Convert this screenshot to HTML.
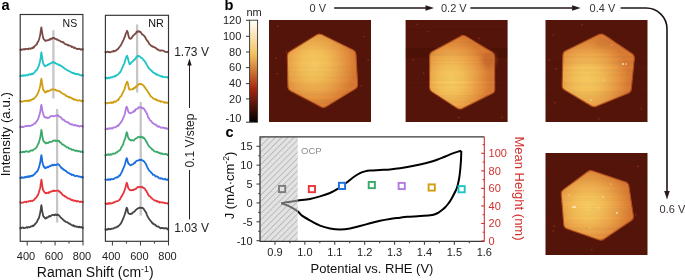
<!DOCTYPE html>
<html><head><meta charset="utf-8"><style>
html,body{margin:0;padding:0;background:#fff;}
body{width:685px;height:280px;overflow:hidden;}
svg{display:block;will-change:transform;}
text{font-family:"Liberation Sans",sans-serif;}
</style></head><body>
<svg width="685" height="280" viewBox="0 0 685 280">
<defs>
<linearGradient id="cbar" x1="0" y1="1" x2="0" y2="0">
<stop offset="0" stop-color="#000"/>
<stop offset="0.3333" stop-color="rgb(168,40,15)"/>
<stop offset="0.6667" stop-color="rgb(243,194,93)"/>
<stop offset="1" stop-color="#fff"/>
</linearGradient>
<radialGradient id="hexg" cx="0.45" cy="0.42" r="0.6">
<stop offset="0" stop-color="#f3c664"/>
<stop offset="0.45" stop-color="#f0ba5c"/>
<stop offset="0.8" stop-color="#e49a48"/>
<stop offset="1" stop-color="#d27a36"/>
</radialGradient>
<filter id="soft" x="-5%" y="-5%" width="110%" height="110%"><feGaussianBlur stdDeviation="0.4"/></filter>
<filter id="blur2" x="-50%" y="-50%" width="200%" height="200%"><feGaussianBlur stdDeviation="2"/></filter>
<pattern id="hatch" patternUnits="userSpaceOnUse" width="4.35" height="4.35" patternTransform="rotate(45)">
<rect width="4.35" height="4.35" fill="#e3e3e3"/>
<line x1="0.5" y1="0" x2="0.5" y2="4.35" stroke="#b9b9b9" stroke-width="0.95"/>
</pattern>
<clipPath id="inH"><rect x="260" y="136" width="37.75" height="106"/></clipPath>
<clipPath id="outH"><rect x="297.75" y="130" width="200" height="120"/></clipPath>
</defs>

<!-- ============ Panel a ============ -->
<text x="1.5" y="9.9" font-size="14.6" font-weight="bold" fill="#000">a</text>
<g fill="none" stroke="#c6c6c6" stroke-width="2.3">
<line x1="53.4" y1="30.2" x2="53.4" y2="98.4"/>
<line x1="57.1" y1="109" x2="57.1" y2="222.5"/>
<line x1="137.1" y1="24.4" x2="137.1" y2="92.5"/>
<line x1="140.7" y1="102" x2="140.7" y2="215.6"/>
</g>
<g fill="none" stroke-width="1.8" stroke-linejoin="round" stroke-linecap="round">
<path d="M20.20,49.72L20.56,49.52L21.03,49.98L21.59,49.35L22.22,49.76L22.89,49.53L23.58,49.16L24.28,49.54L24.97,48.99L25.61,49.31L26.20,48.87L26.89,48.79L27.57,49.01L28.24,49.30L28.89,48.47L29.52,48.45L30.11,48.71L30.68,48.89L31.20,48.38L31.93,47.98L32.54,48.35L33.10,47.18L33.63,47.68L34.20,46.69L34.81,46.01L35.43,45.36L36.05,44.85L36.64,44.58L37.20,43.08L38.06,41.81L38.84,39.98L39.50,37.77L40.20,34.87L40.70,31.46L41.08,28.60L41.40,27.31L41.78,29.85L42.20,32.83L42.67,35.41L43.20,37.99L43.84,39.23L44.50,39.90L45.02,40.88L45.70,40.89L46.20,40.35L46.79,40.50L47.45,40.20L48.20,40.28L48.78,39.93L49.43,39.25L50.12,39.68L50.80,38.56L51.44,38.64L52.00,38.81L52.77,37.94L53.36,38.14L54.20,37.80L54.73,38.59L55.35,38.92L56.02,39.02L56.72,39.65L57.42,39.42L58.09,40.11L58.70,40.29L59.44,40.61L60.10,40.77L60.74,41.45L61.42,41.88L62.20,41.82L62.75,42.33L63.34,42.09L63.97,43.12L64.61,43.47L65.26,44.23L65.91,44.46L66.56,44.30L67.20,44.74L67.83,45.34L68.45,44.98L69.08,45.70L69.70,45.68L70.33,45.88L70.95,46.07L71.58,47.02L72.20,46.62L72.82,46.97L73.43,47.35L74.04,48.05L74.66,47.47L75.27,48.05L75.90,48.34L76.54,48.86L77.20,48.96L77.83,49.14L78.53,48.68L79.26,48.94L80.00,48.99L80.72,49.61L81.40,49.77L82.00,49.04L82.51,49.13L82.90,49.24" stroke="#7a4a46"/>
<path d="M105.40,52.03L105.76,52.25L106.23,52.32L106.79,51.96L107.42,51.66L108.09,52.02L108.78,51.91L109.48,52.04L110.17,52.35L110.81,51.99L111.40,51.72L112.09,51.67L112.77,51.57L113.44,50.77L114.09,51.42L114.72,51.10L115.31,50.97L115.88,50.65L116.40,49.99L117.12,49.59L117.73,48.87L118.27,48.93L118.81,47.78L119.40,47.07L120.06,46.29L120.75,45.16L121.44,44.16L122.11,42.68L122.70,41.50L123.51,39.93L124.21,38.19L124.90,36.66L125.67,33.94L126.43,32.31L127.10,30.81L127.81,32.33L128.40,35.55L128.97,37.53L129.60,38.66L130.11,38.46L130.69,38.78L131.40,38.29L131.92,37.30L132.50,36.74L133.12,35.70L133.76,35.05L134.40,34.64L135.05,33.86L135.73,33.63L136.41,32.20L137.07,31.43L137.70,31.95L138.40,31.38L139.04,31.13L139.68,31.86L140.40,31.83L141.06,32.84L141.79,33.94L142.53,34.56L143.25,35.16L143.90,35.46L144.60,36.45L145.21,37.15L145.80,38.66L146.40,39.33L147.01,40.51L147.62,41.02L148.24,41.84L148.90,43.31L149.46,44.14L150.05,44.65L150.65,45.20L151.27,45.79L151.90,46.24L152.51,46.20L153.11,46.92L153.73,47.15L154.41,47.22L155.20,47.63L155.74,48.15L156.31,48.41L156.90,49.13L157.52,49.68L158.18,49.45L158.87,50.21L159.61,50.53L160.40,50.76L160.98,50.33L161.64,50.36L162.35,50.55L163.10,50.69L163.86,50.87L164.62,51.46L165.37,51.90L166.08,51.99L166.74,51.77L167.32,52.06L167.81,52.31L168.20,51.68" stroke="#7a4a46"/>
<path d="M20.20,75.96L20.56,76.17L21.03,76.00L21.59,75.92L22.22,75.59L22.89,75.23L23.58,75.77L24.28,75.25L24.97,75.64L25.61,75.73L26.20,75.07L26.89,74.97L27.57,75.40L28.24,75.06L28.89,74.38L29.52,74.20L30.11,74.09L30.68,74.69L31.20,74.44L31.93,73.55L32.54,74.01L33.10,73.92L33.63,73.27L34.20,72.53L34.81,72.17L35.43,71.11L36.05,70.26L36.64,70.41L37.20,69.19L38.06,67.33L38.84,65.78L39.50,63.25L40.20,60.49L40.70,57.41L41.08,53.82L41.40,52.36L41.78,54.55L42.20,57.86L42.67,61.01L43.20,63.08L43.84,64.69L44.50,65.24L45.02,66.42L45.70,65.80L46.20,65.66L46.79,65.41L47.45,65.29L48.20,64.39L48.78,64.62L49.43,63.92L50.12,63.66L50.80,63.38L51.44,62.64L52.00,62.87L52.77,62.32L53.36,61.98L54.20,62.90L54.73,62.46L55.35,63.03L56.02,63.61L56.72,63.80L57.42,63.95L58.09,64.50L58.70,64.86L59.44,65.45L60.10,65.10L60.74,65.89L61.42,65.95L62.20,66.45L62.75,67.30L63.34,67.45L63.97,67.94L64.61,68.60L65.26,69.22L65.91,69.20L66.56,69.80L67.20,70.09L67.83,70.45L68.45,70.96L69.08,71.04L69.70,71.42L70.33,71.65L70.95,72.40L71.58,72.43L72.20,72.88L72.82,73.21L73.43,72.79L74.04,73.34L74.66,73.97L75.27,74.10L75.90,73.61L76.54,73.80L77.20,74.31L77.83,74.10L78.53,74.41L79.26,74.37L80.00,75.09L80.72,75.32L81.40,75.53L82.00,74.88L82.51,75.51L82.90,75.52" stroke="#1fc4c6"/>
<path d="M105.40,77.64L105.76,78.35L106.23,78.40L106.79,77.61L107.42,78.30L108.09,77.69L108.78,77.72L109.48,78.15L110.17,77.91L110.81,77.14L111.40,77.30L112.09,77.23L112.77,76.89L113.44,76.56L114.09,76.48L114.72,76.67L115.31,75.73L115.88,76.01L116.40,75.63L117.12,74.78L117.73,74.65L118.27,74.45L118.81,73.73L119.40,72.52L120.06,72.48L120.75,71.14L121.44,70.09L122.11,67.97L122.70,66.95L123.51,64.92L124.21,63.88L124.90,61.50L125.67,58.85L126.43,56.54L127.10,55.73L127.81,57.72L128.40,60.43L128.97,62.30L129.60,64.24L130.11,63.93L130.69,63.64L131.40,62.36L131.92,61.84L132.50,61.87L133.12,60.93L133.76,59.88L134.40,60.06L135.05,59.02L135.73,58.36L136.41,56.83L137.07,56.94L137.70,55.73L138.40,56.37L139.04,56.09L139.68,56.34L140.40,57.05L141.06,57.96L141.79,57.99L142.53,58.63L143.25,59.83L143.90,60.31L144.60,61.11L145.21,62.10L145.80,62.94L146.40,64.05L147.01,65.14L147.62,66.14L148.24,67.57L148.90,68.02L149.46,68.93L150.05,69.27L150.65,70.08L151.27,70.35L151.90,71.14L152.51,71.40L153.11,72.56L153.73,72.80L154.41,72.85L155.20,73.56L155.74,74.31L156.31,73.78L156.90,74.79L157.52,74.70L158.18,75.05L158.87,75.68L159.61,75.52L160.40,75.91L160.98,76.27L161.64,76.74L162.35,76.29L163.10,76.96L163.86,77.02L164.62,77.13L165.37,77.06L166.08,77.16L166.74,77.01L167.32,77.22L167.81,77.27L168.20,78.03" stroke="#1fc4c6"/>
<path d="M20.20,101.36L20.56,101.23L21.03,101.11L21.59,101.81L22.22,101.79L22.89,101.53L23.58,101.07L24.28,100.96L24.97,100.93L25.61,101.02L26.20,100.64L26.89,100.82L27.57,100.53L28.24,101.11L28.89,100.99L29.52,100.43L30.11,99.99L30.68,100.57L31.20,99.76L31.93,99.58L32.54,99.01L33.10,99.14L33.63,98.92L34.20,98.51L34.81,97.66L35.43,97.33L36.05,96.10L36.64,95.56L37.20,94.49L38.06,93.09L38.84,90.78L39.50,88.76L40.20,85.88L40.70,82.79L41.08,80.20L41.40,78.66L41.78,81.01L42.20,84.25L42.67,87.08L43.20,89.62L43.84,90.55L44.50,91.33L45.02,92.45L45.70,91.67L46.20,92.11L46.79,91.77L47.45,90.86L48.20,91.33L48.78,91.15L49.43,90.63L50.12,90.46L50.80,90.27L51.44,89.37L52.00,89.57L52.77,89.28L53.36,89.46L54.20,89.54L54.73,89.74L55.35,89.75L56.02,90.37L56.72,90.50L57.42,90.86L58.09,90.73L58.70,90.83L59.44,91.28L60.10,91.81L60.74,91.87L61.42,92.95L62.20,93.11L62.75,93.52L63.34,93.90L63.97,94.36L64.61,94.60L65.26,94.55L65.91,95.77L66.56,96.13L67.20,96.25L67.83,96.61L68.45,97.05L69.08,96.75L69.70,97.70L70.33,97.49L70.95,97.58L71.58,98.02L72.20,98.74L72.82,98.46L73.43,99.24L74.04,99.72L74.66,99.46L75.27,99.57L75.90,99.87L76.54,100.27L77.20,100.53L77.83,100.52L78.53,100.68L79.26,100.24L80.00,100.43L80.72,100.64L81.40,101.22L82.00,100.86L82.51,101.20L82.90,100.70" stroke="#d19e10"/>
<path d="M105.40,102.76L105.76,102.94L106.23,103.31L106.79,103.29L107.42,103.23L108.09,102.79L108.78,102.96L109.48,102.84L110.17,102.76L110.81,102.32L111.40,102.99L112.09,102.15L112.77,102.77L113.44,102.55L114.09,101.44L114.72,101.68L115.31,101.81L115.88,101.72L116.40,100.95L117.12,100.36L117.73,99.88L118.27,100.14L118.81,98.83L119.40,98.48L120.06,97.12L120.75,96.42L121.44,95.67L122.11,93.66L122.70,93.22L123.51,91.19L124.21,89.88L124.90,87.90L125.67,85.05L126.43,83.23L127.10,81.59L127.81,83.11L128.40,86.20L128.90,88.54L129.60,89.65L130.20,89.67L130.92,89.42L131.71,89.38L132.50,89.02L133.13,89.22L133.78,87.96L134.44,88.23L135.11,87.80L135.80,86.55L136.40,86.84L137.02,86.03L137.66,85.60L138.29,84.42L138.88,84.03L139.43,83.75L140.13,84.22L140.75,83.93L141.34,84.02L142.00,84.53L142.61,84.85L143.26,85.23L143.93,85.97L144.57,87.41L145.15,87.55L145.97,89.30L146.68,89.73L147.40,90.88L148.13,92.29L148.87,93.14L149.65,94.42L150.29,95.77L150.96,96.42L151.65,97.03L152.35,97.47L153.02,98.30L153.69,98.80L154.42,98.87L155.32,99.51L155.84,99.10L156.38,100.04L156.95,100.02L157.56,100.59L158.20,100.74L158.89,100.64L159.62,100.65L160.40,101.77L160.98,101.13L161.63,101.63L162.34,101.67L163.09,101.79L163.85,102.39L164.62,102.78L165.37,102.21L166.08,102.75L166.73,102.52L167.32,102.89L167.81,102.83L168.20,102.68" stroke="#d19e10"/>
<path d="M20.20,126.66L20.56,126.67L21.03,127.33L21.59,126.87L22.22,126.54L22.89,127.17L23.58,127.19L24.28,126.58L24.97,126.19L25.61,126.17L26.20,125.99L26.89,126.14L27.57,125.78L28.24,125.81L28.89,125.71L29.52,125.89L30.11,126.07L30.68,125.80L31.20,125.31L31.93,125.09L32.54,124.99L33.10,124.61L33.63,124.26L34.20,123.56L34.81,123.24L35.43,123.31L36.05,121.77L36.64,121.36L37.20,120.63L38.06,119.20L38.84,116.66L39.50,114.77L40.20,111.69L40.70,108.90L41.08,105.92L41.40,104.85L41.78,106.98L42.20,110.37L42.67,111.98L43.20,114.03L43.84,116.04L44.50,117.10L45.02,117.26L45.70,117.68L46.20,117.17L46.78,117.57L47.44,118.06L48.20,117.82L48.77,117.69L49.40,117.59L50.08,116.62L50.77,116.22L51.49,116.02L52.20,116.20L52.83,116.22L53.51,116.35L54.20,116.02L54.89,115.85L55.55,115.89L56.16,115.53L56.70,115.61L57.45,115.11L58.04,115.93L58.59,115.56L59.20,116.60L59.75,116.76L60.32,116.99L60.90,117.46L61.53,118.23L62.20,119.22L62.80,119.74L63.42,119.60L64.08,120.00L64.76,120.89L65.46,121.38L66.20,121.61L66.78,121.77L67.38,122.47L68.00,122.21L68.64,122.83L69.28,123.31L69.93,124.11L70.57,124.07L71.20,124.57L71.81,124.39L72.41,124.36L73.00,124.56L73.59,125.44L74.20,125.35L74.83,125.10L75.49,124.97L76.20,125.59L76.77,125.87L77.41,125.73L78.09,125.67L78.79,126.18L79.51,126.54L80.21,125.94L80.89,125.83L81.51,126.22L82.07,126.37L82.54,126.69L82.90,126.26" stroke="#b07ae0"/>
<path d="M105.40,129.30L105.77,129.20L106.26,128.91L106.85,128.55L107.50,129.24L108.20,128.50L108.91,128.93L109.62,128.26L110.28,128.16L110.89,128.62L111.40,128.07L112.21,128.59L112.85,128.01L113.41,127.57L113.97,127.42L114.60,127.37L115.22,127.35L115.89,127.31L116.58,126.15L117.24,126.02L117.86,125.47L118.40,125.87L119.15,124.53L119.70,123.94L120.40,122.90L121.02,122.11L121.75,121.18L122.50,119.60L123.21,117.91L123.80,116.83L124.73,114.23L125.40,111.32L126.08,107.98L126.70,106.67L127.32,108.14L127.90,109.99L128.36,111.86L128.90,112.40L129.38,112.93L129.95,113.30L130.70,113.18L131.28,112.75L131.94,112.58L132.66,112.10L133.39,112.10L134.10,110.70L134.80,110.96L135.53,109.56L136.25,109.07L136.92,108.97L137.50,108.53L138.24,107.76L138.81,107.24L139.40,107.59L140.09,107.38L140.81,107.86L141.50,107.21L142.16,107.64L142.80,108.56L143.40,108.14L144.20,109.13L145.00,110.50L145.60,111.59L146.24,112.25L146.90,113.68L147.50,115.11L148.11,117.41L149.00,118.26L149.52,119.46L150.13,120.38L150.79,120.61L151.49,121.32L152.19,122.75L152.87,123.09L153.50,123.32L154.20,124.32L154.88,124.37L155.54,124.70L156.19,124.75L156.81,125.79L157.40,126.25L157.98,126.30L158.43,126.89L158.90,126.23L159.51,126.69L160.40,127.19L160.91,127.79L161.51,127.92L162.20,127.48L162.93,127.48L163.70,127.80L164.49,127.99L165.26,128.55L166.00,127.93L166.69,128.66L167.30,128.69L167.81,128.86L168.20,128.88" stroke="#b07ae0"/>
<path d="M20.20,152.41L20.56,152.09L21.03,152.05L21.59,152.04L22.22,152.41L22.89,151.65L23.58,151.70L24.28,152.19L24.97,151.61L25.61,151.35L26.20,151.25L26.89,151.66L27.57,151.33L28.24,151.87L28.89,151.65L29.52,151.63L30.11,150.78L30.68,150.46L31.20,150.33L31.93,150.51L32.54,150.52L33.10,150.02L33.63,149.51L34.20,149.28L34.81,148.96L35.43,148.40L36.05,147.79L36.64,147.12L37.20,146.09L38.06,143.92L38.84,142.79L39.50,140.33L40.20,137.61L40.70,134.53L41.08,131.93L41.40,129.85L41.78,132.09L42.20,135.39L42.67,137.71L43.20,140.43L43.84,141.43L44.50,142.03L45.02,142.64L45.70,143.45L46.20,142.97L46.78,142.63L47.44,143.08L48.20,142.73L48.77,142.89L49.40,141.78L50.08,141.90L50.77,141.98L51.49,141.77L52.20,141.64L52.83,140.63L53.51,140.75L54.20,140.46L54.89,140.43L55.55,141.14L56.16,140.70L56.70,141.03L57.45,140.49L58.04,141.06L58.59,140.83L59.20,140.99L59.75,141.96L60.32,142.71L60.90,142.52L61.53,143.68L62.20,144.32L62.80,144.39L63.42,145.00L64.08,145.22L64.76,145.73L65.46,146.22L66.20,147.00L66.78,147.38L67.38,147.27L68.00,147.42L68.64,148.07L69.28,148.74L69.93,148.56L70.57,148.97L71.20,149.12L71.81,149.95L72.41,149.91L73.00,149.62L73.59,149.84L74.20,150.30L74.83,150.61L75.49,150.85L76.20,150.45L76.77,150.63L77.41,151.28L78.09,151.10L78.79,151.08L79.51,151.20L80.21,151.95L80.89,151.39L81.51,151.73L82.07,151.59L82.54,151.72L82.90,152.21" stroke="#3aaa6a"/>
<path d="M105.40,155.50L105.77,154.82L106.26,154.60L106.85,155.07L107.50,154.47L108.20,154.20L108.91,155.01L109.62,154.45L110.28,154.76L110.89,154.26L111.40,154.66L112.21,154.10L112.85,153.68L113.41,153.39L113.97,153.75L114.60,153.60L115.22,153.59L115.89,152.45L116.58,152.62L117.24,152.00L117.86,151.76L118.40,151.04L119.15,150.67L119.70,150.41L120.40,149.76L121.02,147.82L121.75,146.78L122.50,145.52L123.21,144.14L123.80,142.03L124.73,139.43L125.40,137.93L126.08,134.77L126.70,132.22L127.32,133.44L127.90,136.89L128.36,137.54L128.90,138.92L129.38,139.28L129.95,140.08L130.70,139.81L131.28,140.56L131.94,140.04L132.66,140.20L133.39,140.53L134.10,140.31L134.80,139.29L135.53,138.80L136.25,138.40L136.92,137.98L137.50,137.45L138.24,136.87L138.81,136.88L139.40,137.30L140.09,137.37L140.81,136.47L141.50,137.05L142.16,137.46L142.80,137.07L143.40,138.24L144.20,138.03L145.00,139.33L145.60,140.23L146.24,141.47L146.90,142.36L147.50,143.64L148.11,145.01L149.00,146.13L149.52,146.96L150.13,147.38L150.79,148.04L151.49,148.28L152.19,149.50L152.87,149.94L153.50,150.17L154.20,151.16L154.88,151.55L155.54,151.54L156.19,151.53L156.81,152.07L157.40,151.95L157.98,152.25L158.43,152.79L158.90,152.67L159.51,153.23L160.40,153.52L160.91,153.15L161.51,153.85L162.20,153.41L162.93,154.17L163.70,154.33L164.49,154.17L165.26,153.82L166.00,154.37L166.69,154.34L167.30,154.99L167.81,154.25L168.20,155.03" stroke="#3aaa6a"/>
<path d="M20.20,178.10L20.56,177.80L21.03,177.84L21.59,177.17L22.22,177.90L22.89,177.35L23.58,177.75L24.28,177.64L24.97,176.82L25.61,177.37L26.20,177.43L26.89,176.46L27.57,176.64L28.24,176.93L28.89,176.21L29.52,176.82L30.11,176.06L30.68,176.46L31.20,175.64L31.93,175.78L32.54,175.99L33.10,175.04L33.63,174.78L34.20,174.61L34.81,173.89L35.43,172.98L36.05,172.43L36.64,171.62L37.20,171.54L38.06,169.61L38.84,167.94L39.50,165.27L40.20,162.83L40.70,159.22L41.08,156.61L41.40,155.14L41.78,157.09L42.20,160.97L42.67,163.12L43.20,165.18L43.84,166.83L44.50,166.90L45.02,168.24L45.70,167.93L46.20,167.56L46.78,167.72L47.44,166.89L48.20,167.29L48.77,166.65L49.40,166.17L50.08,166.30L50.77,165.70L51.49,165.19L52.20,165.54L52.83,164.69L53.51,165.32L54.20,164.62L54.89,164.90L55.55,165.16L56.16,164.71L56.70,164.76L57.45,164.43L58.04,164.20L58.59,164.44L59.20,164.95L59.75,165.91L60.32,166.38L60.90,167.19L61.53,168.31L62.20,168.23L62.80,168.85L63.42,169.78L64.08,169.65L64.76,170.13L65.46,170.97L66.20,171.21L66.78,171.82L67.38,172.07L68.00,172.80L68.64,173.18L69.28,173.15L69.93,173.91L70.57,174.08L71.20,174.03L71.81,175.10L72.41,174.64L73.00,174.76L73.59,174.90L74.20,175.63L74.83,176.03L75.49,176.11L76.20,175.90L76.77,175.89L77.41,175.76L78.09,176.51L78.79,176.55L79.51,176.45L80.21,176.85L80.89,176.75L81.51,177.33L82.07,177.21L82.54,176.79L82.90,177.50" stroke="#1a6ee0"/>
<path d="M105.40,179.54L105.77,179.99L106.26,179.81L106.85,179.58L107.50,179.33L108.20,179.98L108.91,179.13L109.62,179.59L110.28,179.90L110.89,179.02L111.40,179.00L112.21,179.27L112.85,179.05L113.41,179.05L113.97,179.05L114.60,178.17L115.22,178.05L115.89,177.72L116.58,177.12L117.24,177.60L117.86,177.13L118.40,176.72L119.15,175.52L119.70,175.87L120.40,174.75L121.02,173.38L121.75,172.27L122.50,170.45L123.21,168.73L123.80,167.31L124.73,164.98L125.40,162.54L126.08,159.74L126.70,158.15L127.32,159.70L127.90,162.35L128.36,163.40L128.90,163.77L129.38,164.59L129.95,164.91L130.70,165.37L131.28,164.93L131.94,164.34L132.66,164.28L133.39,164.11L134.10,162.88L134.80,163.02L135.53,161.56L136.25,161.19L136.92,160.62L137.50,160.71L138.24,160.55L138.81,160.23L139.40,159.74L140.09,160.19L140.81,159.58L141.50,159.56L142.16,160.47L142.80,160.56L143.40,161.03L144.20,161.58L145.00,162.81L145.60,163.36L146.24,165.04L146.90,166.25L147.50,167.72L148.11,168.65L149.00,170.37L149.52,170.88L150.13,171.33L150.79,171.98L151.49,173.12L152.19,173.28L152.87,174.75L153.50,174.53L154.20,174.93L154.88,175.43L155.54,176.60L156.19,176.31L156.81,176.39L157.40,176.55L157.98,176.88L158.43,177.80L158.90,177.98L159.51,178.28L160.40,178.56L160.91,178.00L161.51,178.65L162.20,178.55L162.93,179.13L163.70,179.25L164.49,179.45L165.26,178.74L166.00,179.66L166.69,179.81L167.30,179.93L167.81,179.17L168.20,179.33" stroke="#1a6ee0"/>
<path d="M20.20,202.21L20.56,202.10L21.03,202.87L21.59,202.79L22.22,202.56L22.89,202.69L23.58,202.43L24.28,202.02L24.97,201.76L25.61,201.68L26.20,202.26L26.89,201.60L27.57,201.61L28.24,201.60L28.89,201.07L29.52,201.18L30.11,201.07L30.68,201.36L31.20,200.87L31.93,200.60L32.54,201.03L33.10,200.33L33.63,200.37L34.20,199.72L34.81,198.60L35.43,198.36L36.05,197.68L36.64,197.23L37.20,195.95L38.06,194.64L38.84,192.58L39.50,190.32L40.20,187.91L40.70,184.19L41.08,181.89L41.40,179.67L41.78,181.73L42.20,185.30L42.67,188.32L43.20,190.58L43.84,190.94L44.50,192.29L45.02,192.83L45.70,193.36L46.20,192.75L46.78,192.99L47.44,192.71L48.20,193.00L48.77,192.24L49.40,192.69L50.08,191.77L50.77,191.44L51.49,191.68L52.20,191.28L52.83,190.75L53.51,191.15L54.20,190.47L54.89,191.08L55.55,190.91L56.16,190.94L56.70,190.77L57.45,190.51L58.04,190.63L58.59,190.82L59.20,191.67L59.75,191.33L60.32,192.73L60.90,192.54L61.53,193.40L62.20,194.08L62.80,195.20L63.42,195.27L64.08,195.61L64.76,196.57L65.46,196.37L66.20,197.04L66.78,197.45L67.38,198.02L68.00,198.36L68.64,198.59L69.28,198.63L69.93,198.92L70.57,199.04L71.20,200.00L71.81,200.06L72.41,200.35L73.00,199.98L73.59,200.43L74.20,200.93L74.83,200.90L75.49,200.60L76.20,201.09L76.77,201.63L77.41,201.09L78.09,201.16L78.79,201.37L79.51,201.88L80.21,202.12L80.89,201.52L81.51,201.61L82.07,201.77L82.54,201.91L82.90,202.16" stroke="#e8353c"/>
<path d="M105.40,203.46L105.77,203.59L106.26,203.40L106.85,204.13L107.50,203.82L108.20,203.12L108.91,203.90L109.62,202.96L110.28,203.17L110.89,203.69L111.40,203.43L112.21,203.24L112.85,202.83L113.41,202.46L113.97,202.74L114.60,201.98L115.22,201.83L115.89,201.71L116.58,201.03L117.24,201.05L117.86,201.10L118.40,200.67L119.15,200.01L119.70,199.68L120.40,198.54L121.02,197.18L121.75,196.33L122.50,194.68L123.21,193.59L123.80,192.52L124.73,189.71L125.40,187.72L126.08,184.95L126.70,182.73L127.32,184.06L127.90,186.92L128.36,188.18L128.90,188.87L129.38,189.38L129.95,190.07L130.70,190.23L131.28,190.26L131.94,190.08L132.66,189.87L133.39,190.03L134.10,189.28L134.80,189.24L135.53,189.11L136.25,188.50L136.92,187.92L137.50,187.17L138.24,187.04L138.81,186.97L139.40,187.07L140.09,186.77L140.81,186.99L141.50,187.30L142.16,186.76L142.80,187.54L143.40,188.01L144.20,188.10L145.00,188.97L145.60,190.34L146.24,190.51L146.90,192.14L147.50,192.86L148.11,194.62L149.00,195.97L149.52,196.11L150.13,196.29L150.79,197.39L151.49,197.97L152.19,198.73L152.87,199.06L153.50,199.65L154.20,200.27L154.88,200.32L155.54,200.50L156.19,201.29L156.81,200.78L157.40,201.49L157.98,201.46L158.43,202.05L158.90,201.62L159.51,202.67L160.40,202.25L160.91,202.05L161.51,202.36L162.20,202.59L162.93,202.31L163.70,202.82L164.49,202.93L165.26,203.31L166.00,203.06L166.69,203.06L167.30,203.09L167.81,203.68L168.20,203.93" stroke="#e8353c"/>
<path d="M20.20,228.13L20.56,227.78L21.03,228.33L21.59,227.87L22.22,227.63L22.89,227.49L23.58,228.07L24.28,228.03L24.97,227.79L25.61,227.54L26.20,227.56L26.89,227.12L27.57,227.74L28.24,227.02L28.89,227.18L29.52,227.23L30.11,227.09L30.68,226.60L31.20,226.28L31.93,226.31L32.54,225.67L33.10,226.14L33.63,225.35L34.20,225.42L34.81,224.30L35.43,223.78L36.05,222.95L36.64,222.33L37.20,221.22L38.06,219.35L38.84,218.17L39.50,215.76L40.20,212.64L40.70,209.72L41.08,206.84L41.40,205.20L41.78,207.66L42.20,211.09L42.67,213.28L43.20,215.90L43.84,217.20L44.50,217.25L45.02,218.46L45.70,218.54L46.20,218.25L46.78,217.32L47.44,217.66L48.20,217.11L48.77,216.25L49.40,215.97L50.08,216.63L50.77,216.06L51.49,215.40L52.20,215.03L52.83,214.91L53.51,214.86L54.20,215.26L54.89,214.72L55.55,214.44L56.16,215.13L56.70,215.00L57.45,214.39L58.04,215.20L58.59,215.14L59.20,215.71L59.75,216.11L60.32,217.01L60.90,217.65L61.53,218.47L62.20,218.53L62.80,219.56L63.42,219.92L64.08,220.65L64.76,220.86L65.46,221.80L66.20,221.98L66.78,222.06L67.38,222.42L68.00,222.71L68.64,223.45L69.28,223.38L69.93,224.14L70.57,224.15L71.20,224.80L71.81,225.07L72.41,225.35L73.00,225.90L73.59,225.24L74.20,226.27L74.83,226.07L75.49,226.34L76.20,226.62L76.77,226.92L77.41,226.58L78.09,226.75L78.79,227.41L79.51,226.64L80.21,227.31L80.89,227.41L81.51,226.90L82.07,227.56L82.54,227.71L82.90,228.02" stroke="#454545"/>
<path d="M105.40,229.33L105.77,229.94L106.26,229.42L106.85,229.33L107.50,229.67L108.20,228.73L108.91,229.34L109.62,229.16L110.28,228.80L110.89,229.24L111.40,228.67L112.21,228.64L112.85,228.57L113.41,228.68L113.97,227.95L114.60,227.94L115.22,227.66L115.89,227.48L116.58,227.40L117.24,226.50L117.86,226.67L118.40,225.90L119.15,225.51L119.70,224.79L120.40,224.01L121.02,223.39L121.75,221.68L122.50,220.29L123.21,218.33L123.80,217.02L124.73,214.54L125.40,212.59L126.08,209.53L126.70,207.68L127.32,208.55L127.90,211.72L128.36,213.09L128.90,213.55L129.38,213.54L129.95,214.15L130.70,213.81L131.28,213.65L131.94,213.83L132.66,212.85L133.39,212.20L134.10,211.69L134.80,211.19L135.53,210.24L136.25,209.61L136.92,209.06L137.50,208.70L138.24,208.21L138.81,208.16L139.40,207.61L140.09,207.95L140.81,207.68L141.50,208.06L142.16,207.66L142.80,208.13L143.40,208.44L144.20,209.79L145.00,210.91L145.60,211.80L146.24,212.92L146.90,214.82L147.50,216.20L148.11,217.43L149.00,218.66L149.52,219.42L150.13,220.31L150.79,221.00L151.49,221.90L152.19,222.87L152.87,223.85L153.50,223.55L154.20,224.62L154.88,224.55L155.54,225.00L156.19,226.01L156.81,226.08L157.40,226.72L157.98,226.58L158.43,226.44L158.90,227.07L159.51,227.53L160.40,228.14L160.91,228.30L161.51,227.92L162.20,228.00L162.93,227.82L163.70,228.50L164.49,228.20L165.26,228.27L166.00,228.25L166.69,228.35L167.30,229.13L167.81,228.65L168.20,229.57" stroke="#454545"/>
</g>
<g fill="none" stroke="#333" stroke-width="1.15">
<rect x="20.2" y="14.5" width="62.7" height="226.8"/>
<rect x="105.4" y="15.3" width="63.1" height="226"/>
</g>
<g stroke="#3a3a3a" stroke-width="1">
<line x1="27.18" y1="241.3" x2="27.18" y2="245.5"/><line x1="41.13" y1="241.3" x2="41.13" y2="243.6"/><line x1="55.09" y1="241.3" x2="55.09" y2="245.5"/><line x1="69.05" y1="241.3" x2="69.05" y2="243.6"/><line x1="83.00" y1="241.3" x2="83.00" y2="245.5"/>
<line x1="112.41" y1="241.3" x2="112.41" y2="245.5"/><line x1="126.43" y1="241.3" x2="126.43" y2="243.6"/><line x1="140.46" y1="241.3" x2="140.46" y2="245.5"/><line x1="154.48" y1="241.3" x2="154.48" y2="243.6"/><line x1="168.50" y1="241.3" x2="168.50" y2="245.5"/>
</g>
<g font-size="11" fill="#222" text-anchor="middle">
<text x="26.0" y="259.5">400</text><text x="54.0" y="259.5">600</text><text x="82.0" y="259.5">800</text>
<text x="111.3" y="259.5">400</text><text x="139.4" y="259.5">600</text><text x="167.5" y="259.5">800</text>
</g>
<text x="95.2" y="276.8" font-size="14" fill="#111" text-anchor="middle">Raman Shift (cm<tspan font-size="8.8" dy="-5.2">-1</tspan><tspan dy="5.2">)</tspan></text>
<text transform="translate(9.9,134.2) rotate(-90)" font-size="13.3" fill="#111" text-anchor="middle">Intensity (a.u.)</text>
<text x="62.6" y="27.3" font-size="10.5" fill="#111">NS</text>
<text x="148.3" y="27.1" font-size="10.8" fill="#111">NR</text>
<text x="174.2" y="55.6" font-size="12" fill="#222">1.73 V</text>
<text x="174.2" y="231.9" font-size="12" fill="#222">1.03 V</text>
<g stroke="#2a1c1c" stroke-width="1">
<line x1="189.5" y1="63" x2="189.5" y2="108"/>
<line x1="189.5" y1="170" x2="189.5" y2="219.4"/>
</g>
<polygon points="189.5,58.6 187.3,65.4 191.7,65.4" fill="#1e1414"/>
<text transform="translate(193.6,140.6) rotate(-90)" font-size="12" fill="#222" text-anchor="middle">0.1 V/step</text>

<!-- ============ Panel b ============ -->
<text x="224.6" y="9.9" font-size="14.6" font-weight="bold" fill="#000">b</text>
<text x="246.5" y="16.4" font-size="11" fill="#222">nm</text>
<rect x="249.6" y="20.2" width="8" height="102" fill="url(#cbar)" stroke="#333" stroke-width="0.9"/>
<g stroke="#333" stroke-width="1">
<line x1="246" y1="20.3" x2="249.6" y2="20.3"/><line x1="246" y1="36.3" x2="249.6" y2="36.3"/><line x1="246" y1="52.0" x2="249.6" y2="52.0"/><line x1="246" y1="67.6" x2="249.6" y2="67.6"/><line x1="246" y1="83.6" x2="249.6" y2="83.6"/><line x1="246" y1="98.9" x2="249.6" y2="98.9"/><line x1="246" y1="122.2" x2="249.6" y2="122.2"/>
</g>
<g font-size="11" fill="#222" text-anchor="end">
<text x="241.3" y="23.9">120</text><text x="241.3" y="40.0">100</text><text x="241.3" y="55.8">80</text>
<text x="241.3" y="71.4">60</text><text x="241.3" y="87.4">40</text><text x="241.3" y="102.7">20</text><text x="241.5" y="122.2">-10</text>
</g>
<g>
<rect x="269" y="20" width="102" height="102" fill="#56150a"/>

<circle cx="302.1" cy="67.1" r="0.8" fill="#a03a18" opacity="0.8"/><circle cx="277.7" cy="26.5" r="0.8" fill="#a03a18" opacity="0.8"/><circle cx="361.3" cy="86.0" r="0.8" fill="#a03a18" opacity="0.8"/><circle cx="301.0" cy="66.1" r="0.8" fill="#a03a18" opacity="0.8"/><circle cx="368.2" cy="60.2" r="0.8" fill="#a03a18" opacity="0.8"/><circle cx="277.0" cy="73.7" r="0.8" fill="#a03a18" opacity="0.8"/><circle cx="364.3" cy="36.5" r="0.8" fill="#a03a18" opacity="0.8"/><circle cx="276.2" cy="58.1" r="0.8" fill="#a03a18" opacity="0.8"/><circle cx="286.3" cy="52.2" r="0.8" fill="#a03a18" opacity="0.8"/><circle cx="330.1" cy="50.5" r="0.8" fill="#a03a18" opacity="0.8"/>
<radialGradient id="hg1" cx="0.38" cy="0.42" r="0.62">
<stop offset="0" stop-color="#f8cc62"/>
<stop offset="0.3" stop-color="#f5c058"/>
<stop offset="0.55" stop-color="#eea94c"/>
<stop offset="0.75" stop-color="#e6933f"/>
<stop offset="0.95" stop-color="#da7c34"/>
</radialGradient>
<path d="M316.65,34.87Q319.20,33.30 321.89,34.62L353.11,49.88Q355.80,51.20 355.97,54.20L357.63,84.30Q357.80,87.30 355.24,88.86L326.16,106.64Q323.60,108.20 320.94,106.80L290.66,90.90Q288.00,89.50 287.93,86.50L287.27,56.00Q287.20,53.00 289.75,51.43Z" fill="url(#hg1)" stroke="#b5501f" stroke-width="1.1" stroke-linejoin="round" filter="url(#soft)"/>

<rect x="269" y="20" width="102" height="2" fill="#000" opacity="0.010"/><rect x="269" y="22" width="102" height="1" fill="#000" opacity="0.023"/><rect x="269" y="23" width="102" height="1" fill="#000" opacity="0.030"/><rect x="269" y="24" width="102" height="1" fill="#000" opacity="0.005"/><rect x="269" y="25" width="102" height="1" fill="#000" opacity="0.026"/><rect x="269" y="26" width="102" height="1" fill="#000" opacity="0.015"/><rect x="269" y="27" width="102" height="1" fill="#000" opacity="0.035"/><rect x="269" y="28" width="102" height="1" fill="#000" opacity="0.003"/><rect x="269" y="29" width="102" height="2" fill="#000" opacity="0.029"/><rect x="269" y="31" width="102" height="3" fill="#000" opacity="0.033"/><rect x="269" y="34" width="102" height="2" fill="#000" opacity="0.012"/><rect x="269" y="36" width="102" height="1" fill="#000" opacity="0.017"/><rect x="269" y="37" width="102" height="3" fill="#000" opacity="0.023"/><rect x="269" y="40" width="102" height="3" fill="#000" opacity="0.022"/><rect x="269" y="43" width="102" height="1" fill="#000" opacity="0.012"/><rect x="269" y="44" width="102" height="2" fill="#000" opacity="0.024"/><rect x="269" y="46" width="102" height="1" fill="#000" opacity="0.015"/><rect x="269" y="47" width="102" height="3" fill="#000" opacity="0.019"/><rect x="269" y="50" width="102" height="2" fill="#000" opacity="0.007"/><rect x="269" y="52" width="102" height="2" fill="#000" opacity="0.009"/><rect x="269" y="54" width="102" height="3" fill="#000" opacity="0.009"/><rect x="269" y="57" width="102" height="2" fill="#000" opacity="0.014"/><rect x="269" y="59" width="102" height="1" fill="#000" opacity="0.020"/><rect x="269" y="60" width="102" height="1" fill="#000" opacity="0.020"/><rect x="269" y="61" width="102" height="1" fill="#000" opacity="0.025"/><rect x="269" y="62" width="102" height="1" fill="#000" opacity="0.003"/><rect x="269" y="63" width="102" height="3" fill="#000" opacity="0.014"/><rect x="269" y="66" width="102" height="3" fill="#000" opacity="0.033"/><rect x="269" y="69" width="102" height="1" fill="#000" opacity="0.008"/><rect x="269" y="70" width="102" height="3" fill="#000" opacity="0.028"/><rect x="269" y="73" width="102" height="3" fill="#000" opacity="0.022"/><rect x="269" y="76" width="102" height="1" fill="#000" opacity="0.026"/><rect x="269" y="77" width="102" height="2" fill="#000" opacity="0.031"/><rect x="269" y="79" width="102" height="2" fill="#000" opacity="0.007"/><rect x="269" y="81" width="102" height="2" fill="#000" opacity="0.018"/><rect x="269" y="83" width="102" height="1" fill="#000" opacity="0.032"/><rect x="269" y="84" width="102" height="1" fill="#000" opacity="0.025"/><rect x="269" y="85" width="102" height="1" fill="#000" opacity="0.030"/><rect x="269" y="86" width="102" height="1" fill="#000" opacity="0.020"/><rect x="269" y="87" width="102" height="1" fill="#000" opacity="0.013"/><rect x="269" y="88" width="102" height="2" fill="#000" opacity="0.006"/><rect x="269" y="90" width="102" height="1" fill="#000" opacity="0.006"/><rect x="269" y="91" width="102" height="1" fill="#000" opacity="0.032"/><rect x="269" y="92" width="102" height="1" fill="#000" opacity="0.002"/><rect x="269" y="93" width="102" height="1" fill="#000" opacity="0.034"/><rect x="269" y="94" width="102" height="2" fill="#000" opacity="0.023"/><rect x="269" y="96" width="102" height="1" fill="#000" opacity="0.004"/><rect x="269" y="97" width="102" height="2" fill="#000" opacity="0.004"/><rect x="269" y="99" width="102" height="2" fill="#000" opacity="0.032"/><rect x="269" y="101" width="102" height="1" fill="#000" opacity="0.033"/><rect x="269" y="102" width="102" height="2" fill="#000" opacity="0.030"/><rect x="269" y="104" width="102" height="1" fill="#000" opacity="0.000"/><rect x="269" y="105" width="102" height="2" fill="#000" opacity="0.005"/><rect x="269" y="107" width="102" height="3" fill="#000" opacity="0.008"/><rect x="269" y="110" width="102" height="1" fill="#000" opacity="0.010"/><rect x="269" y="111" width="102" height="1" fill="#000" opacity="0.013"/><rect x="269" y="112" width="102" height="1" fill="#000" opacity="0.026"/><rect x="269" y="113" width="102" height="2" fill="#000" opacity="0.015"/><rect x="269" y="115" width="102" height="1" fill="#000" opacity="0.009"/><rect x="269" y="116" width="102" height="1" fill="#000" opacity="0.012"/><rect x="269" y="117" width="102" height="1" fill="#000" opacity="0.021"/><rect x="269" y="118" width="102" height="3" fill="#000" opacity="0.007"/><rect x="269" y="121" width="102" height="1" fill="#000" opacity="0.015"/>
</g><g>
<rect x="405.6" y="20" width="102" height="102" fill="#56150a"/>
<rect x="405.6" y="48" width="102" height="10" fill="#000" opacity="0.1"/>
<circle cx="439.3" cy="68.1" r="0.8" fill="#a03a18" opacity="0.8"/><circle cx="471.9" cy="45.5" r="0.8" fill="#a03a18" opacity="0.8"/><circle cx="459.0" cy="117.6" r="0.8" fill="#a03a18" opacity="0.8"/><circle cx="417.4" cy="24.3" r="0.8" fill="#a03a18" opacity="0.8"/><circle cx="428.4" cy="31.8" r="0.8" fill="#a03a18" opacity="0.8"/><circle cx="462.0" cy="35.2" r="0.8" fill="#a03a18" opacity="0.8"/><circle cx="502.1" cy="117.3" r="0.8" fill="#a03a18" opacity="0.8"/><circle cx="478.9" cy="38.2" r="0.8" fill="#a03a18" opacity="0.8"/><circle cx="423.7" cy="73.3" r="0.8" fill="#a03a18" opacity="0.8"/><circle cx="413.0" cy="60.0" r="0.8" fill="#a03a18" opacity="0.8"/>
<radialGradient id="hg2" cx="0.33" cy="0.6" r="0.62">
<stop offset="0" stop-color="#f8cc62"/>
<stop offset="0.3" stop-color="#f5c058"/>
<stop offset="0.55" stop-color="#eea94c"/>
<stop offset="0.75" stop-color="#e6933f"/>
<stop offset="0.95" stop-color="#da7c34"/>
</radialGradient>
<path d="M460.86,36.22Q463.50,34.80 466.07,36.35L491.93,51.95Q494.50,53.50 494.52,56.50L494.78,89.20Q494.80,92.20 492.12,93.54L462.28,108.46Q459.60,109.80 457.09,108.16L432.01,91.84Q429.50,90.20 429.52,87.20L429.68,56.00Q429.70,53.00 432.34,51.58Z" fill="url(#hg2)" stroke="#b5501f" stroke-width="1.1" stroke-linejoin="round" filter="url(#soft)"/>
<ellipse cx="489" cy="60" rx="7" ry="8" fill="#c0602a" opacity="0.55" filter="url(#blur2)"/>
<rect x="405.6" y="20" width="102" height="1" fill="#000" opacity="0.023"/><rect x="405.6" y="21" width="102" height="3" fill="#000" opacity="0.021"/><rect x="405.6" y="24" width="102" height="1" fill="#000" opacity="0.004"/><rect x="405.6" y="25" width="102" height="3" fill="#000" opacity="0.001"/><rect x="405.6" y="28" width="102" height="1" fill="#000" opacity="0.022"/><rect x="405.6" y="29" width="102" height="1" fill="#000" opacity="0.035"/><rect x="405.6" y="30" width="102" height="3" fill="#000" opacity="0.025"/><rect x="405.6" y="33" width="102" height="1" fill="#000" opacity="0.028"/><rect x="405.6" y="34" width="102" height="1" fill="#000" opacity="0.023"/><rect x="405.6" y="35" width="102" height="1" fill="#000" opacity="0.005"/><rect x="405.6" y="36" width="102" height="1" fill="#000" opacity="0.021"/><rect x="405.6" y="37" width="102" height="3" fill="#000" opacity="0.013"/><rect x="405.6" y="40" width="102" height="1" fill="#000" opacity="0.001"/><rect x="405.6" y="41" width="102" height="2" fill="#000" opacity="0.030"/><rect x="405.6" y="43" width="102" height="1" fill="#000" opacity="0.018"/><rect x="405.6" y="44" width="102" height="1" fill="#000" opacity="0.016"/><rect x="405.6" y="45" width="102" height="2" fill="#000" opacity="0.029"/><rect x="405.6" y="47" width="102" height="3" fill="#000" opacity="0.015"/><rect x="405.6" y="50" width="102" height="1" fill="#000" opacity="0.002"/><rect x="405.6" y="51" width="102" height="2" fill="#000" opacity="0.007"/><rect x="405.6" y="53" width="102" height="3" fill="#000" opacity="0.030"/><rect x="405.6" y="56" width="102" height="1" fill="#000" opacity="0.002"/><rect x="405.6" y="57" width="102" height="1" fill="#000" opacity="0.004"/><rect x="405.6" y="58" width="102" height="1" fill="#000" opacity="0.002"/><rect x="405.6" y="59" width="102" height="1" fill="#000" opacity="0.013"/><rect x="405.6" y="60" width="102" height="1" fill="#000" opacity="0.030"/><rect x="405.6" y="61" width="102" height="2" fill="#000" opacity="0.004"/><rect x="405.6" y="63" width="102" height="1" fill="#000" opacity="0.033"/><rect x="405.6" y="64" width="102" height="3" fill="#000" opacity="0.020"/><rect x="405.6" y="67" width="102" height="1" fill="#000" opacity="0.012"/><rect x="405.6" y="68" width="102" height="1" fill="#000" opacity="0.028"/><rect x="405.6" y="69" width="102" height="1" fill="#000" opacity="0.024"/><rect x="405.6" y="70" width="102" height="2" fill="#000" opacity="0.012"/><rect x="405.6" y="72" width="102" height="3" fill="#000" opacity="0.012"/><rect x="405.6" y="75" width="102" height="3" fill="#000" opacity="0.021"/><rect x="405.6" y="78" width="102" height="1" fill="#000" opacity="0.034"/><rect x="405.6" y="79" width="102" height="1" fill="#000" opacity="0.020"/><rect x="405.6" y="80" width="102" height="1" fill="#000" opacity="0.034"/><rect x="405.6" y="81" width="102" height="3" fill="#000" opacity="0.001"/><rect x="405.6" y="84" width="102" height="1" fill="#000" opacity="0.029"/><rect x="405.6" y="85" width="102" height="1" fill="#000" opacity="0.024"/><rect x="405.6" y="86" width="102" height="3" fill="#000" opacity="0.002"/><rect x="405.6" y="89" width="102" height="3" fill="#000" opacity="0.006"/><rect x="405.6" y="92" width="102" height="2" fill="#000" opacity="0.006"/><rect x="405.6" y="94" width="102" height="1" fill="#000" opacity="0.002"/><rect x="405.6" y="95" width="102" height="1" fill="#000" opacity="0.031"/><rect x="405.6" y="96" width="102" height="3" fill="#000" opacity="0.019"/><rect x="405.6" y="99" width="102" height="2" fill="#000" opacity="0.017"/><rect x="405.6" y="101" width="102" height="2" fill="#000" opacity="0.023"/><rect x="405.6" y="103" width="102" height="3" fill="#000" opacity="0.001"/><rect x="405.6" y="106" width="102" height="1" fill="#000" opacity="0.034"/><rect x="405.6" y="107" width="102" height="3" fill="#000" opacity="0.008"/><rect x="405.6" y="110" width="102" height="1" fill="#000" opacity="0.005"/><rect x="405.6" y="111" width="102" height="3" fill="#000" opacity="0.014"/><rect x="405.6" y="114" width="102" height="2" fill="#000" opacity="0.024"/><rect x="405.6" y="116" width="102" height="1" fill="#000" opacity="0.026"/><rect x="405.6" y="117" width="102" height="1" fill="#000" opacity="0.001"/><rect x="405.6" y="118" width="102" height="3" fill="#000" opacity="0.008"/><rect x="405.6" y="121" width="102" height="1" fill="#000" opacity="0.007"/>
</g><g>
<rect x="545.5" y="20" width="102" height="102" fill="#56150a"/>

<circle cx="594.4" cy="67.2" r="0.8" fill="#a03a18" opacity="0.8"/><circle cx="549.3" cy="60.0" r="0.8" fill="#a03a18" opacity="0.8"/><circle cx="598.9" cy="118.7" r="0.8" fill="#a03a18" opacity="0.8"/><circle cx="555.0" cy="102.8" r="0.8" fill="#a03a18" opacity="0.8"/><circle cx="641.4" cy="108.8" r="0.8" fill="#a03a18" opacity="0.8"/><circle cx="598.4" cy="88.6" r="0.8" fill="#a03a18" opacity="0.8"/><circle cx="582.2" cy="24.8" r="0.8" fill="#a03a18" opacity="0.8"/><circle cx="588.0" cy="95.0" r="0.8" fill="#a03a18" opacity="0.8"/><circle cx="556.1" cy="68.9" r="0.8" fill="#a03a18" opacity="0.8"/><circle cx="553.4" cy="35.1" r="0.8" fill="#a03a18" opacity="0.8"/>
<radialGradient id="hg3" cx="0.34" cy="0.62" r="0.62">
<stop offset="0" stop-color="#f8cc62"/>
<stop offset="0.3" stop-color="#f5c058"/>
<stop offset="0.55" stop-color="#eea94c"/>
<stop offset="0.75" stop-color="#e6933f"/>
<stop offset="0.95" stop-color="#da7c34"/>
</radialGradient>
<path d="M598.90,34.51Q601.60,33.20 604.09,34.88L632.11,53.82Q634.60,55.50 634.31,58.49L631.29,89.11Q631.00,92.10 628.22,93.23L596.38,106.17Q593.60,107.30 591.02,105.77L564.58,90.03Q562.00,88.50 562.08,85.50L562.92,55.00Q563.00,52.00 565.70,50.69Z" fill="url(#hg3)" stroke="#b5501f" stroke-width="1.1" stroke-linejoin="round" filter="url(#soft)"/>
<circle cx="623" cy="64" r="1.0" fill="#fff6d8" opacity="0.85"/><circle cx="626" cy="64" r="0.8" fill="#fff6d8" opacity="0.85"/><circle cx="591" cy="100" r="0.7" fill="#fff6d8" opacity="0.85"/><circle cx="604" cy="80" r="0.6" fill="#fff6d8" opacity="0.85"/><circle cx="612" cy="45" r="0.6" fill="#fff6d8" opacity="0.85"/><ellipse cx="603" cy="43" rx="8" ry="5" fill="#d07a38" opacity="0.5" filter="url(#blur2)"/>
<rect x="545.5" y="20" width="102" height="1" fill="#000" opacity="0.009"/><rect x="545.5" y="21" width="102" height="1" fill="#000" opacity="0.007"/><rect x="545.5" y="22" width="102" height="3" fill="#000" opacity="0.026"/><rect x="545.5" y="25" width="102" height="1" fill="#000" opacity="0.023"/><rect x="545.5" y="26" width="102" height="2" fill="#000" opacity="0.024"/><rect x="545.5" y="28" width="102" height="1" fill="#000" opacity="0.034"/><rect x="545.5" y="29" width="102" height="1" fill="#000" opacity="0.010"/><rect x="545.5" y="30" width="102" height="1" fill="#000" opacity="0.013"/><rect x="545.5" y="31" width="102" height="1" fill="#000" opacity="0.015"/><rect x="545.5" y="32" width="102" height="3" fill="#000" opacity="0.028"/><rect x="545.5" y="35" width="102" height="1" fill="#000" opacity="0.030"/><rect x="545.5" y="36" width="102" height="2" fill="#000" opacity="0.009"/><rect x="545.5" y="38" width="102" height="1" fill="#000" opacity="0.016"/><rect x="545.5" y="39" width="102" height="2" fill="#000" opacity="0.020"/><rect x="545.5" y="41" width="102" height="1" fill="#000" opacity="0.025"/><rect x="545.5" y="42" width="102" height="1" fill="#000" opacity="0.023"/><rect x="545.5" y="43" width="102" height="3" fill="#000" opacity="0.022"/><rect x="545.5" y="46" width="102" height="3" fill="#000" opacity="0.028"/><rect x="545.5" y="49" width="102" height="2" fill="#000" opacity="0.014"/><rect x="545.5" y="51" width="102" height="2" fill="#000" opacity="0.017"/><rect x="545.5" y="53" width="102" height="3" fill="#000" opacity="0.002"/><rect x="545.5" y="56" width="102" height="2" fill="#000" opacity="0.033"/><rect x="545.5" y="58" width="102" height="2" fill="#000" opacity="0.008"/><rect x="545.5" y="60" width="102" height="1" fill="#000" opacity="0.014"/><rect x="545.5" y="61" width="102" height="3" fill="#000" opacity="0.034"/><rect x="545.5" y="64" width="102" height="1" fill="#000" opacity="0.015"/><rect x="545.5" y="65" width="102" height="1" fill="#000" opacity="0.025"/><rect x="545.5" y="66" width="102" height="3" fill="#000" opacity="0.000"/><rect x="545.5" y="69" width="102" height="3" fill="#000" opacity="0.024"/><rect x="545.5" y="72" width="102" height="1" fill="#000" opacity="0.004"/><rect x="545.5" y="73" width="102" height="3" fill="#000" opacity="0.023"/><rect x="545.5" y="76" width="102" height="1" fill="#000" opacity="0.030"/><rect x="545.5" y="77" width="102" height="1" fill="#000" opacity="0.005"/><rect x="545.5" y="78" width="102" height="1" fill="#000" opacity="0.022"/><rect x="545.5" y="79" width="102" height="3" fill="#000" opacity="0.012"/><rect x="545.5" y="82" width="102" height="2" fill="#000" opacity="0.030"/><rect x="545.5" y="84" width="102" height="1" fill="#000" opacity="0.029"/><rect x="545.5" y="85" width="102" height="1" fill="#000" opacity="0.030"/><rect x="545.5" y="86" width="102" height="1" fill="#000" opacity="0.006"/><rect x="545.5" y="87" width="102" height="1" fill="#000" opacity="0.013"/><rect x="545.5" y="88" width="102" height="2" fill="#000" opacity="0.006"/><rect x="545.5" y="90" width="102" height="1" fill="#000" opacity="0.007"/><rect x="545.5" y="91" width="102" height="1" fill="#000" opacity="0.031"/><rect x="545.5" y="92" width="102" height="1" fill="#000" opacity="0.034"/><rect x="545.5" y="93" width="102" height="1" fill="#000" opacity="0.033"/><rect x="545.5" y="94" width="102" height="3" fill="#000" opacity="0.035"/><rect x="545.5" y="97" width="102" height="3" fill="#000" opacity="0.029"/><rect x="545.5" y="100" width="102" height="2" fill="#000" opacity="0.023"/><rect x="545.5" y="102" width="102" height="1" fill="#000" opacity="0.011"/><rect x="545.5" y="103" width="102" height="2" fill="#000" opacity="0.019"/><rect x="545.5" y="105" width="102" height="1" fill="#000" opacity="0.016"/><rect x="545.5" y="106" width="102" height="2" fill="#000" opacity="0.001"/><rect x="545.5" y="108" width="102" height="1" fill="#000" opacity="0.028"/><rect x="545.5" y="109" width="102" height="1" fill="#000" opacity="0.013"/><rect x="545.5" y="110" width="102" height="3" fill="#000" opacity="0.004"/><rect x="545.5" y="113" width="102" height="1" fill="#000" opacity="0.022"/><rect x="545.5" y="114" width="102" height="3" fill="#000" opacity="0.030"/><rect x="545.5" y="117" width="102" height="1" fill="#000" opacity="0.011"/><rect x="545.5" y="118" width="102" height="3" fill="#000" opacity="0.013"/><rect x="545.5" y="121" width="102" height="1" fill="#000" opacity="0.029"/>
</g><g>
<rect x="545.5" y="153" width="102" height="102" fill="#56150a"/>

<circle cx="602.0" cy="218.6" r="0.8" fill="#a03a18" opacity="0.8"/><circle cx="604.4" cy="237.4" r="0.8" fill="#a03a18" opacity="0.8"/><circle cx="615.5" cy="181.3" r="0.8" fill="#a03a18" opacity="0.8"/><circle cx="611.8" cy="204.7" r="0.8" fill="#a03a18" opacity="0.8"/><circle cx="637.9" cy="166.4" r="0.8" fill="#a03a18" opacity="0.8"/><circle cx="591.8" cy="249.7" r="0.8" fill="#a03a18" opacity="0.8"/><circle cx="554.1" cy="226.3" r="0.8" fill="#a03a18" opacity="0.8"/><circle cx="635.7" cy="214.7" r="0.8" fill="#a03a18" opacity="0.8"/><circle cx="553.1" cy="231.1" r="0.8" fill="#a03a18" opacity="0.8"/><circle cx="573.3" cy="205.8" r="0.8" fill="#a03a18" opacity="0.8"/>
<radialGradient id="hg4" cx="0.37" cy="0.52" r="0.62">
<stop offset="0" stop-color="#f8cc62"/>
<stop offset="0.3" stop-color="#f5c058"/>
<stop offset="0.55" stop-color="#eea94c"/>
<stop offset="0.75" stop-color="#e6933f"/>
<stop offset="0.95" stop-color="#da7c34"/>
</radialGradient>
<path d="M587.59,171.78Q590.00,170.00 592.84,170.96L625.56,182.04Q628.40,183.00 628.84,185.97L633.31,215.78Q633.75,218.75 631.27,220.44L604.08,239.01Q601.60,240.70 598.76,239.72L566.84,228.68Q564.00,227.70 563.75,224.71L561.25,194.39Q561.00,191.40 563.41,189.62Z" fill="url(#hg4)" stroke="#b5501f" stroke-width="1.1" stroke-linejoin="round" filter="url(#soft)"/>
<circle cx="575" cy="207" r="1.1" fill="#fff6d8" opacity="0.85"/><circle cx="573" cy="207" r="0.9" fill="#fff6d8" opacity="0.85"/><circle cx="598" cy="208" r="0.7" fill="#fff6d8" opacity="0.85"/><circle cx="617" cy="213" r="0.9" fill="#fff6d8" opacity="0.85"/><circle cx="603" cy="197" r="0.7" fill="#fff6d8" opacity="0.85"/><circle cx="569" cy="195" r="0.6" fill="#fff6d8" opacity="0.85"/><circle cx="611" cy="184" r="0.6" fill="#fff6d8" opacity="0.85"/><circle cx="590" cy="228" r="0.6" fill="#fff6d8" opacity="0.85"/>
<rect x="545.5" y="153" width="102" height="2" fill="#000" opacity="0.002"/><rect x="545.5" y="155" width="102" height="3" fill="#000" opacity="0.030"/><rect x="545.5" y="158" width="102" height="2" fill="#000" opacity="0.014"/><rect x="545.5" y="160" width="102" height="1" fill="#000" opacity="0.006"/><rect x="545.5" y="161" width="102" height="3" fill="#000" opacity="0.029"/><rect x="545.5" y="164" width="102" height="2" fill="#000" opacity="0.015"/><rect x="545.5" y="166" width="102" height="1" fill="#000" opacity="0.001"/><rect x="545.5" y="167" width="102" height="3" fill="#000" opacity="0.015"/><rect x="545.5" y="170" width="102" height="1" fill="#000" opacity="0.002"/><rect x="545.5" y="171" width="102" height="1" fill="#000" opacity="0.017"/><rect x="545.5" y="172" width="102" height="2" fill="#000" opacity="0.017"/><rect x="545.5" y="174" width="102" height="3" fill="#000" opacity="0.015"/><rect x="545.5" y="177" width="102" height="1" fill="#000" opacity="0.031"/><rect x="545.5" y="178" width="102" height="3" fill="#000" opacity="0.033"/><rect x="545.5" y="181" width="102" height="3" fill="#000" opacity="0.023"/><rect x="545.5" y="184" width="102" height="2" fill="#000" opacity="0.019"/><rect x="545.5" y="186" width="102" height="1" fill="#000" opacity="0.014"/><rect x="545.5" y="187" width="102" height="1" fill="#000" opacity="0.010"/><rect x="545.5" y="188" width="102" height="2" fill="#000" opacity="0.006"/><rect x="545.5" y="190" width="102" height="3" fill="#000" opacity="0.028"/><rect x="545.5" y="193" width="102" height="3" fill="#000" opacity="0.021"/><rect x="545.5" y="196" width="102" height="1" fill="#000" opacity="0.000"/><rect x="545.5" y="197" width="102" height="3" fill="#000" opacity="0.016"/><rect x="545.5" y="200" width="102" height="1" fill="#000" opacity="0.025"/><rect x="545.5" y="201" width="102" height="1" fill="#000" opacity="0.003"/><rect x="545.5" y="202" width="102" height="1" fill="#000" opacity="0.011"/><rect x="545.5" y="203" width="102" height="3" fill="#000" opacity="0.003"/><rect x="545.5" y="206" width="102" height="1" fill="#000" opacity="0.026"/><rect x="545.5" y="207" width="102" height="1" fill="#000" opacity="0.005"/><rect x="545.5" y="208" width="102" height="1" fill="#000" opacity="0.029"/><rect x="545.5" y="209" width="102" height="3" fill="#000" opacity="0.021"/><rect x="545.5" y="212" width="102" height="1" fill="#000" opacity="0.028"/><rect x="545.5" y="213" width="102" height="1" fill="#000" opacity="0.018"/><rect x="545.5" y="214" width="102" height="3" fill="#000" opacity="0.019"/><rect x="545.5" y="217" width="102" height="1" fill="#000" opacity="0.003"/><rect x="545.5" y="218" width="102" height="1" fill="#000" opacity="0.001"/><rect x="545.5" y="219" width="102" height="1" fill="#000" opacity="0.013"/><rect x="545.5" y="220" width="102" height="1" fill="#000" opacity="0.014"/><rect x="545.5" y="221" width="102" height="1" fill="#000" opacity="0.018"/><rect x="545.5" y="222" width="102" height="1" fill="#000" opacity="0.004"/><rect x="545.5" y="223" width="102" height="3" fill="#000" opacity="0.018"/><rect x="545.5" y="226" width="102" height="1" fill="#000" opacity="0.005"/><rect x="545.5" y="227" width="102" height="3" fill="#000" opacity="0.035"/><rect x="545.5" y="230" width="102" height="1" fill="#000" opacity="0.019"/><rect x="545.5" y="231" width="102" height="1" fill="#000" opacity="0.005"/><rect x="545.5" y="232" width="102" height="1" fill="#000" opacity="0.011"/><rect x="545.5" y="233" width="102" height="1" fill="#000" opacity="0.013"/><rect x="545.5" y="234" width="102" height="1" fill="#000" opacity="0.029"/><rect x="545.5" y="235" width="102" height="1" fill="#000" opacity="0.026"/><rect x="545.5" y="236" width="102" height="2" fill="#000" opacity="0.002"/><rect x="545.5" y="238" width="102" height="1" fill="#000" opacity="0.031"/><rect x="545.5" y="239" width="102" height="1" fill="#000" opacity="0.008"/><rect x="545.5" y="240" width="102" height="2" fill="#000" opacity="0.011"/><rect x="545.5" y="242" width="102" height="2" fill="#000" opacity="0.010"/><rect x="545.5" y="244" width="102" height="1" fill="#000" opacity="0.024"/><rect x="545.5" y="245" width="102" height="2" fill="#000" opacity="0.003"/><rect x="545.5" y="247" width="102" height="1" fill="#000" opacity="0.029"/><rect x="545.5" y="248" width="102" height="1" fill="#000" opacity="0.011"/><rect x="545.5" y="249" width="102" height="1" fill="#000" opacity="0.025"/><rect x="545.5" y="250" width="102" height="2" fill="#000" opacity="0.009"/><rect x="545.5" y="252" width="102" height="3" fill="#000" opacity="0.024"/>
</g>
<g font-size="11" fill="#3a3030">
<text x="309.5" y="11.8">0 V</text>
<text x="441" y="11.8">0.2 V</text>
<text x="589.6" y="11.8">0.4 V</text>
<text x="659.6" y="213.4">0.6 V</text>
</g>
<g stroke="#1e1414" stroke-width="1.6" fill="none">
<line x1="334.2" y1="8" x2="426" y2="8"/>
<line x1="470.4" y1="8" x2="573" y2="8"/>
<path d="M620.6,8 H646 A21,21 0 0 1 667,29 V192"/>
</g>
<polygon points="434,8 425.5,5.2 425.5,10.8" fill="#2a1a1a"/>
<polygon points="580.6,8 572.1,5.2 572.1,10.8" fill="#2a1a1a"/>
<polygon points="667,199.6 664.2,191.1 669.8,191.1" fill="#2a1a1a"/>

<!-- ============ Panel c ============ -->
<text x="225.4" y="136.8" font-size="14.6" font-weight="bold" fill="#000">c</text>
<rect x="260" y="136.8" width="37.75" height="104.5" fill="url(#hatch)"/>

<g fill="none" stroke="#000" stroke-width="2" stroke-linejoin="round" clip-path="url(#outH)">
<path d="M281.30,203.20C282.75,202.97 287.26,202.23 290.00,201.80C292.74,201.37 294.42,201.08 297.75,200.60C301.08,200.12 306.29,199.60 310.00,198.90C313.71,198.20 316.67,197.38 320.00,196.40C323.33,195.42 327.00,194.30 330.00,193.00C333.00,191.70 335.33,190.27 338.00,188.60C340.67,186.93 343.50,184.85 346.00,183.00C348.50,181.15 350.67,179.13 353.00,177.50C355.33,175.87 358.00,174.22 360.00,173.20C362.00,172.18 363.33,171.83 365.00,171.40C366.67,170.97 367.50,170.83 370.00,170.60C372.50,170.37 376.67,170.20 380.00,170.00C383.33,169.80 386.67,169.68 390.00,169.40C393.33,169.12 396.67,168.77 400.00,168.30C403.33,167.83 406.67,167.23 410.00,166.60C413.33,165.97 416.67,165.27 420.00,164.50C423.33,163.73 427.17,162.78 430.00,162.00C432.83,161.22 434.67,160.63 437.00,159.80C439.33,158.97 441.50,158.03 444.00,157.00C446.50,155.97 449.67,154.50 452.00,153.60C454.33,152.70 456.45,152.05 458.00,151.60C459.55,151.15 460.75,151.02 461.30,150.90"/>
<path d="M461.30,150.90C461.25,152.42 461.18,156.82 461.00,160.00C460.82,163.18 460.50,167.00 460.20,170.00C459.90,173.00 459.65,175.33 459.20,178.00C458.75,180.67 458.03,184.00 457.50,186.00C456.97,188.00 456.75,188.33 456.00,190.00C455.25,191.67 453.92,194.25 453.00,196.00C452.08,197.75 451.33,199.17 450.50,200.50C449.67,201.83 448.92,202.83 448.00,204.00C447.08,205.17 446.00,206.50 445.00,207.50C444.00,208.50 443.08,209.15 442.00,210.00C440.92,210.85 439.67,211.90 438.50,212.60C437.33,213.30 436.42,213.75 435.00,214.20C433.58,214.65 432.50,214.98 430.00,215.30C427.50,215.62 423.83,215.85 420.00,216.10C416.17,216.35 410.33,216.53 407.00,216.80C403.67,217.07 402.83,217.35 400.00,217.70C397.17,218.05 393.33,218.40 390.00,218.90C386.67,219.40 383.33,219.97 380.00,220.70C376.67,221.43 373.33,222.42 370.00,223.30C366.67,224.18 363.33,225.13 360.00,226.00C356.67,226.87 353.33,227.93 350.00,228.50C346.67,229.07 343.33,229.42 340.00,229.40C336.67,229.38 333.33,229.03 330.00,228.40C326.67,227.77 323.33,226.93 320.00,225.60C316.67,224.27 313.00,222.07 310.00,220.40C307.00,218.73 304.00,217.07 302.00,215.60C300.00,214.13 300.00,213.10 298.00,211.60C296.00,210.10 292.78,208.00 290.00,206.60C287.22,205.20 282.75,203.77 281.30,203.20"/>
</g>
<g fill="none" stroke="#6a6a6a" stroke-width="2" stroke-linejoin="round" clip-path="url(#inH)">
<path d="M281.30,203.20C282.75,202.97 287.26,202.23 290.00,201.80C292.74,201.37 294.42,201.08 297.75,200.60C301.08,200.12 306.29,199.60 310.00,198.90C313.71,198.20 316.67,197.38 320.00,196.40C323.33,195.42 327.00,194.30 330.00,193.00C333.00,191.70 335.33,190.27 338.00,188.60C340.67,186.93 343.50,184.85 346.00,183.00C348.50,181.15 350.67,179.13 353.00,177.50C355.33,175.87 358.00,174.22 360.00,173.20C362.00,172.18 363.33,171.83 365.00,171.40C366.67,170.97 367.50,170.83 370.00,170.60C372.50,170.37 376.67,170.20 380.00,170.00C383.33,169.80 386.67,169.68 390.00,169.40C393.33,169.12 396.67,168.77 400.00,168.30C403.33,167.83 406.67,167.23 410.00,166.60C413.33,165.97 416.67,165.27 420.00,164.50C423.33,163.73 427.17,162.78 430.00,162.00C432.83,161.22 434.67,160.63 437.00,159.80C439.33,158.97 441.50,158.03 444.00,157.00C446.50,155.97 449.67,154.50 452.00,153.60C454.33,152.70 456.45,152.05 458.00,151.60C459.55,151.15 460.75,151.02 461.30,150.90"/>
<path d="M461.30,150.90C461.25,152.42 461.18,156.82 461.00,160.00C460.82,163.18 460.50,167.00 460.20,170.00C459.90,173.00 459.65,175.33 459.20,178.00C458.75,180.67 458.03,184.00 457.50,186.00C456.97,188.00 456.75,188.33 456.00,190.00C455.25,191.67 453.92,194.25 453.00,196.00C452.08,197.75 451.33,199.17 450.50,200.50C449.67,201.83 448.92,202.83 448.00,204.00C447.08,205.17 446.00,206.50 445.00,207.50C444.00,208.50 443.08,209.15 442.00,210.00C440.92,210.85 439.67,211.90 438.50,212.60C437.33,213.30 436.42,213.75 435.00,214.20C433.58,214.65 432.50,214.98 430.00,215.30C427.50,215.62 423.83,215.85 420.00,216.10C416.17,216.35 410.33,216.53 407.00,216.80C403.67,217.07 402.83,217.35 400.00,217.70C397.17,218.05 393.33,218.40 390.00,218.90C386.67,219.40 383.33,219.97 380.00,220.70C376.67,221.43 373.33,222.42 370.00,223.30C366.67,224.18 363.33,225.13 360.00,226.00C356.67,226.87 353.33,227.93 350.00,228.50C346.67,229.07 343.33,229.42 340.00,229.40C336.67,229.38 333.33,229.03 330.00,228.40C326.67,227.77 323.33,226.93 320.00,225.60C316.67,224.27 313.00,222.07 310.00,220.40C307.00,218.73 304.00,217.07 302.00,215.60C300.00,214.13 300.00,213.10 298.00,211.60C296.00,210.10 292.78,208.00 290.00,206.60C287.22,205.20 282.75,203.77 281.30,203.20"/>
</g>
<g stroke-width="1.9">
<rect x="279.00" y="185.90" width="6.2" height="6.2" stroke="#7d7d7d" fill="#e2e2e2"/>
<rect x="308.80" y="186.00" width="6.2" height="6.2" stroke="#e8353c" fill="#fff"/>
<rect x="338.90" y="182.80" width="6.2" height="6.2" stroke="#1a6ee0" fill="#fff"/>
<rect x="368.70" y="181.95" width="6.2" height="6.2" stroke="#3aaa6a" fill="#fff"/>
<rect x="398.60" y="182.90" width="6.2" height="6.2" stroke="#b07ae0" fill="#fff"/>
<rect x="428.60" y="184.40" width="6.2" height="6.2" stroke="#d19e10" fill="#fff"/>
<rect x="458.50" y="186.10" width="6.2" height="6.2" stroke="#1fc4c6" fill="#fff"/>
</g>
<g stroke="#383838" stroke-width="1.3" fill="none">
<path d="M484.3,136.8 H259.4 M260,136.2 V241.3 H484.3"/>
</g>
<g stroke="#444" stroke-width="1.1">
<line x1="256.5" y1="146.30" x2="260" y2="146.30"/><line x1="258.2" y1="155.74" x2="260" y2="155.74"/><line x1="256.5" y1="165.17" x2="260" y2="165.17"/><line x1="258.2" y1="174.61" x2="260" y2="174.61"/><line x1="256.5" y1="184.04" x2="260" y2="184.04"/><line x1="258.2" y1="193.48" x2="260" y2="193.48"/><line x1="256.5" y1="202.91" x2="260" y2="202.91"/><line x1="258.2" y1="212.35" x2="260" y2="212.35"/><line x1="256.5" y1="221.78" x2="260" y2="221.78"/><line x1="258.2" y1="231.22" x2="260" y2="231.22"/><line x1="256.5" y1="240.65" x2="260" y2="240.65"/>
<line x1="274.95" y1="241.3" x2="274.95" y2="244.8"/><line x1="289.90" y1="241.3" x2="289.90" y2="243.3"/><line x1="304.85" y1="241.3" x2="304.85" y2="244.8"/><line x1="319.80" y1="241.3" x2="319.80" y2="243.3"/><line x1="334.75" y1="241.3" x2="334.75" y2="244.8"/><line x1="349.70" y1="241.3" x2="349.70" y2="243.3"/><line x1="364.65" y1="241.3" x2="364.65" y2="244.8"/><line x1="379.60" y1="241.3" x2="379.60" y2="243.3"/><line x1="394.55" y1="241.3" x2="394.55" y2="244.8"/><line x1="409.50" y1="241.3" x2="409.50" y2="243.3"/><line x1="424.45" y1="241.3" x2="424.45" y2="244.8"/><line x1="439.40" y1="241.3" x2="439.40" y2="243.3"/><line x1="454.35" y1="241.3" x2="454.35" y2="244.8"/><line x1="469.30" y1="241.3" x2="469.30" y2="243.3"/>
</g>
<g font-size="11" fill="#222" text-anchor="end">
<text x="252.6" y="150.2">15</text><text x="252.6" y="169.2">10</text><text x="252.6" y="188.2">5</text>
<text x="252.6" y="207.0">0</text><text x="252.6" y="226.0">-5</text><text x="252.6" y="244.6">-10</text>
</g>
<g font-size="11" fill="#222" text-anchor="middle">
<text x="275.0" y="255.7">0.9</text><text x="304.9" y="255.7">1.0</text><text x="334.8" y="255.7">1.1</text><text x="364.7" y="255.7">1.2</text><text x="394.6" y="255.7">1.3</text><text x="424.5" y="255.7">1.4</text><text x="454.4" y="255.7">1.5</text><text x="484.3" y="255.7">1.6</text>
</g>
<text x="372" y="272.6" font-size="13" fill="#111" text-anchor="middle">Potential vs. RHE (V)</text>
<text transform="translate(234.4,185.5) rotate(-90)" font-size="13" fill="#111" text-anchor="middle">J (mA·cm<tspan font-size="8.5" dy="-5">-2</tspan><tspan dy="5">)</tspan></text>
<text x="301" y="154" font-size="9.5" fill="#8a8a8a">OCP</text>
<g stroke="#d0312d" stroke-width="1.1">
<line x1="484.3" y1="136.8" x2="484.3" y2="241.3"/>
<line x1="481.2" y1="241.00" x2="484.3" y2="241.00"/><line x1="482.6" y1="232.23" x2="484.3" y2="232.23"/><line x1="481.2" y1="223.46" x2="484.3" y2="223.46"/><line x1="482.6" y1="214.69" x2="484.3" y2="214.69"/><line x1="481.2" y1="205.92" x2="484.3" y2="205.92"/><line x1="482.6" y1="197.15" x2="484.3" y2="197.15"/><line x1="481.2" y1="188.38" x2="484.3" y2="188.38"/><line x1="482.6" y1="179.61" x2="484.3" y2="179.61"/><line x1="481.2" y1="170.84" x2="484.3" y2="170.84"/><line x1="482.6" y1="162.07" x2="484.3" y2="162.07"/><line x1="481.2" y1="153.30" x2="484.3" y2="153.30"/><line x1="482.6" y1="144.53" x2="484.3" y2="144.53"/>
</g>
<g font-size="11" fill="#d0312d">
<text x="488.6" y="244.8">0</text><text x="488.6" y="227.3">20</text><text x="488.6" y="209.7">40</text><text x="488.6" y="192.2">60</text><text x="488.6" y="174.6">80</text><text x="488.6" y="157.1">100</text>
</g>
<text transform="translate(514.8,188.5) rotate(90)" font-size="13" fill="#d0312d" text-anchor="middle">Mean Height (nm)</text>
</svg>
</body></html>
